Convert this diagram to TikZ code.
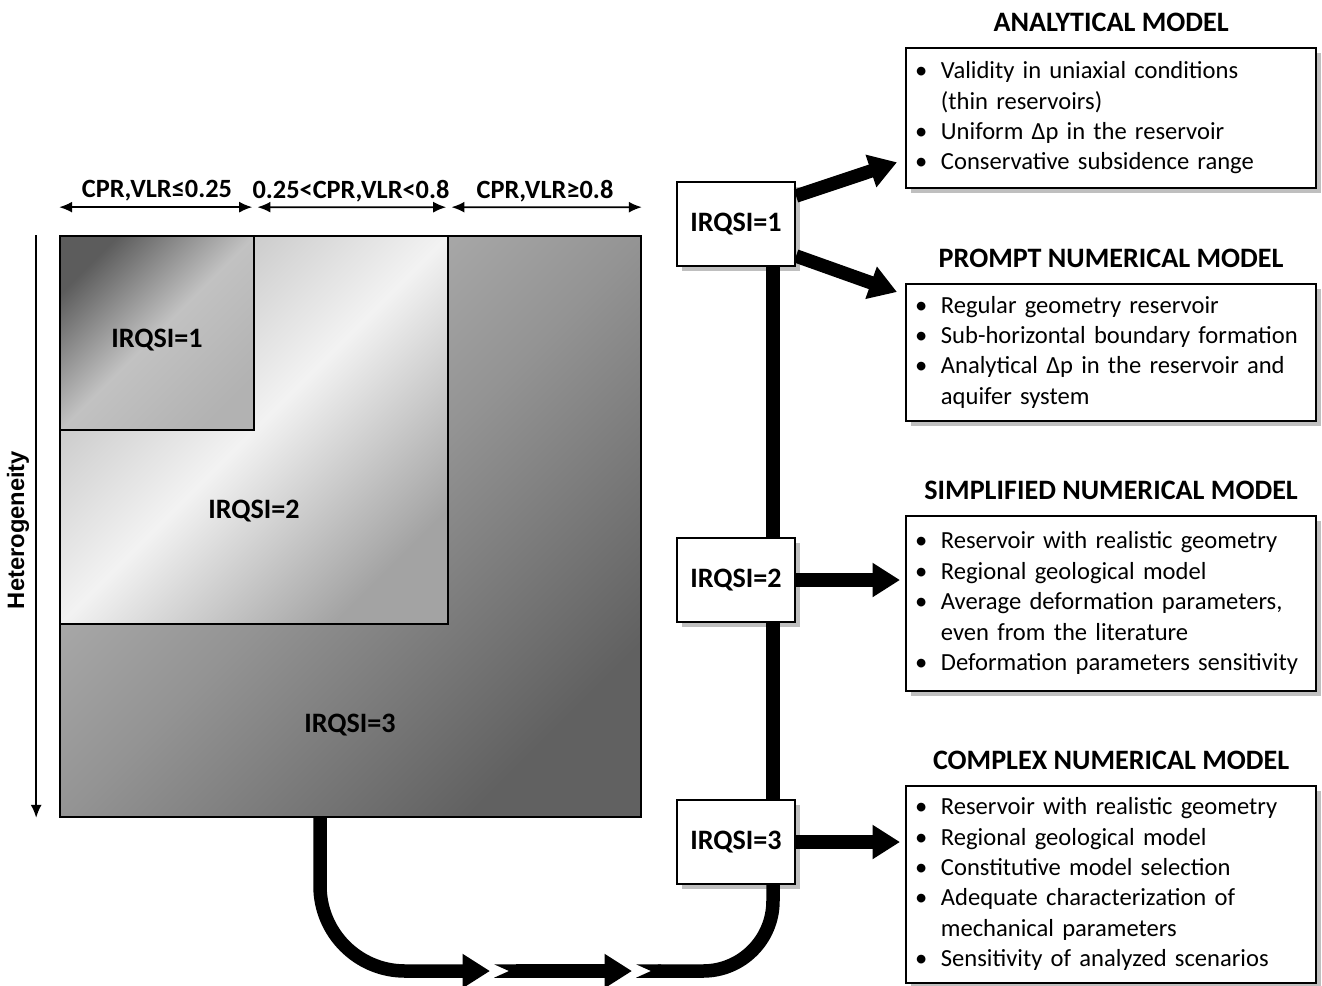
\documentclass[tikz,border=0pt]{standalone}
\usepackage{fontspec}
\setmainfont{Carlito}
\newfontfamily\arialfont{Liberation Sans}
\usetikzlibrary{positioning,arrows.meta,shadows,calc}
\tikzset{>={Latex[length=2.6mm,width=2.2mm]}}

\begin{document}
\begin{tikzpicture}[x=0.02cm, y=-0.02cm,
    region/.style={draw, line width=1pt},
    r3shade/.style={shading=axis, top color=black!26, bottom color=black!62, middle color=black!42, shading angle=45},
    r2shade/.style={shading=axis, top color=black!26, bottom color=black!36, middle color=black!5, shading angle=45},
    r1shade/.style={shading=axis, top color=black!64, bottom color=black!30, middle color=black!24, shading angle=45},
    lbl/.style={font=\bfseries\fontsize{16}{19}\selectfont},
    hdr/.style={font=\bfseries\fontsize{15}{18}\selectfont},
    irq/.style={draw, line width=1.2pt, fill=white, minimum width=2.36cm, minimum height=1.68cm,
        font=\bfseries\fontsize{16}{19}\selectfont,
        drop shadow={shadow xshift=3pt, shadow yshift=-3pt, fill=black!50, opacity=0.5}},
    model/.style={draw, line width=1.3pt, fill=white, anchor=north west, minimum width=8.2cm,
        text width=7.84cm, inner xsep=0.18cm, align=left, font=\fontsize{14}{17.3}\selectfont,
        drop shadow={shadow xshift=3pt, shadow yshift=-3pt, fill=black!50, opacity=0.5}},
    head/.style={font=\bfseries\fontsize{16}{19}\selectfont},
    pipe/.style={line width=0.27cm},
    tip/.style={-{Triangle[length=0.55cm,width=0.65cm]}}]
    \useasboundingbox (0,0) rectangle (1322,985);

    % quality index regions
    \node[region, r3shade, minimum size=11.62cm] (r3) at (350.5,526.5) {};
    \node[region, r2shade, minimum size=7.76cm] (r2) at (254,430) {};
    \node[region, r1shade, minimum size=3.88cm] (r1) at (157,333) {};
    \node[lbl] (l1) at (157,340) {IRQSI=1};
    \node[lbl] (l2) at (254,511) {IRQSI=2};
    \node[lbl] (l3) at (350,725) {IRQSI=3};

    % ratio ranges on top
    \draw[<->, line width=1pt] ([yshift=0.56cm]r1.north west) -- ([yshift=0.56cm, xshift=-1.5pt]r1.north east);
    \draw[<->, line width=1pt] ([yshift=0.56cm, xshift=1.5pt]r1.north east) -- ([yshift=0.56cm, xshift=-1.5pt]r2.north east);
    \draw[<->, line width=1pt] ([yshift=0.56cm, xshift=1.5pt]r2.north east) -- ([yshift=0.56cm]r3.north east);
    \node[hdr] (t1) at (157,191) {CPR,VLR≤0.25};
    \node[hdr] (t2) at (351,191) {0.25<CPR,VLR<0.8};
    \node[hdr] (t3) at (545,191) {CPR,VLR≥0.8};

    % heterogeneity axis
    \draw[->, line width=1pt] ([xshift=-0.46cm]r3.north west) -- ([xshift=-0.46cm]r3.south west);
    \node[rotate=90, font=\arialfont\bfseries\fontsize{13.5}{16}\selectfont] (het) at (18,530) {Heterogeneity};

    % index boxes
    \node[irq] (b1) at (736,224) {IRQSI=1};
    \node[irq] (b2) at (736,580) {IRQSI=2};
    \node[irq] (b3) at (736,842) {IRQSI=3};

    % model boxes
    \node[model, minimum height=2.8cm] (ana) at (905,47) {\begin{tabular}{@{}l@{\hspace{0.55em}}l@{}}
        \textbullet & Validity in uniaxial conditions\\
         & (thin reservoirs)\\
        \textbullet & Uniform Δp in the reservoir\\
        \textbullet & Conservative subsidence range
    \end{tabular}};
    \node[model, minimum height=2.74cm] (prm) at (905,283) {\begin{tabular}{@{}l@{\hspace{0.55em}}l@{}}
        \textbullet & Regular geometry reservoir\\
        \textbullet & Sub-horizontal boundary formation\\
        \textbullet & Analytical Δp in the reservoir and\\
         & aquifer system
    \end{tabular}};
    \node[model, minimum height=3.5cm] (smp) at (905,515) {\begin{tabular}{@{}l@{\hspace{0.55em}}l@{}}
        \textbullet & Reservoir with realistic geometry\\
        \textbullet & Regional geological model\\
        \textbullet & Average deformation parameters,\\
         & even from the literature\\
        \textbullet & Deformation parameters sensitivity
    \end{tabular}};
    \node[model, minimum height=3.94cm] (cpx) at (905,785) {\begin{tabular}{@{}l@{\hspace{0.55em}}l@{}}
        \textbullet & Reservoir with realistic geometry\\
        \textbullet & Regional geological model\\
        \textbullet & Constitutive model selection\\
        \textbullet & Adequate characterization of\\
         & mechanical parameters\\
        \textbullet & Sensitivity of analyzed scenarios
    \end{tabular}};
    \node[head, above=0.18cm of ana] (anah) {ANALYTICAL MODEL};
    \node[head, above=0.18cm of prm] (prmh) {PROMPT NUMERICAL MODEL};
    \node[head, above=0.18cm of smp] (smph) {SIMPLIFIED NUMERICAL MODEL};
    \node[head, above=0.18cm of cpx] (cpxh) {COMPLEX NUMERICAL MODEL};

    % thick connectors
    \draw[pipe] ([xshift=0.74cm]b1.south) -- ([xshift=0.74cm]b2.north);
    \draw[pipe] ([xshift=0.74cm]b2.south) -- ([xshift=0.74cm]b3.north);
    \draw[pipe, tip] ([yshift=0.56cm]b1.east) -- ([shift={(-0.16cm,0.54cm)}]ana.south west);
    \draw[pipe, tip] ([yshift=-0.64cm]b1.east) -- ([shift={(-0.16cm,-0.18cm)}]prm.north west);
    \draw[pipe, tip] (b2.east) -- ([xshift=-0.1cm]b2.east -| smp.west);
    \draw[pipe, tip] (b3.east) -- ([xshift=-0.1cm]b3.east -| cpx.west);

    % loop back from the square
    \coordinate (k1) at (490,971);
    \coordinate (k2) at (494,971);
    \coordinate (k3) at (632,971);
    \coordinate (k4) at (636,971);
    \draw[pipe, rounded corners=1.7cm, tip] ([xshift=-0.61cm]r3.south) |- (k1);
    \draw[pipe, {Triangle Cap[reversed,length=0.3cm]}-{Triangle[length=0.55cm,width=0.65cm]}] (k2) -- (k3);
    \draw[pipe, rounded corners=1.4cm, {Triangle Cap[reversed,length=0.3cm]}-] (k4) -| ([xshift=0.74cm]b3.south);
\end{tikzpicture}
\end{document}
